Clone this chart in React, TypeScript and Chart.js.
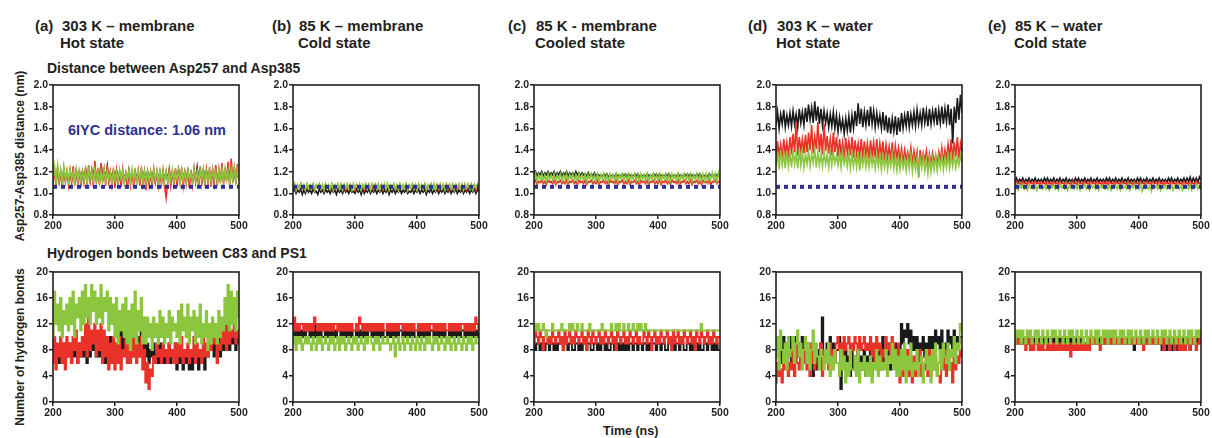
import React, { useEffect, useRef } from "react";
import { Chart, registerables } from "chart.js";

Chart.register(...registerables);

// ---------------- DATA ----------------
const TIME_NS = [
  200, 202.5, 205, 207.5, 210, 212.5, 215, 217.5, 220, 222.5,
  225, 227.5, 230, 232.5, 235, 237.5, 240, 242.5, 245, 247.5,
  250, 252.5, 255, 257.5, 260, 262.5, 265, 267.5, 270, 272.5,
  275, 277.5, 280, 282.5, 285, 287.5, 290, 292.5, 295, 297.5,
  300, 302.5, 305, 307.5, 310, 312.5, 315, 317.5, 320, 322.5,
  325, 327.5, 330, 332.5, 335, 337.5, 340, 342.5, 345, 347.5,
  350, 352.5, 355, 357.5, 360, 362.5, 365, 367.5, 370, 372.5,
  375, 377.5, 380, 382.5, 385, 387.5, 390, 392.5, 395, 397.5,
  400, 402.5, 405, 407.5, 410, 412.5, 415, 417.5, 420, 422.5,
  425, 427.5, 430, 432.5, 435, 437.5, 440, 442.5, 445, 447.5,
  450, 452.5, 455, 457.5, 460, 462.5, 465, 467.5, 470, 472.5,
  475, 477.5, 480, 482.5, 485, 487.5, 490, 492.5, 495, 497.5,
  500,
];
const X_TICKS = [200, 300, 400, 500];
const DIST_TICKS = [0.8, 1.0, 1.2, 1.4, 1.6, 1.8, 2.0];
const HB_TICKS = [0, 4, 8, 12, 16, 20];
const CRYSTAL_DISTANCE = 1.06; // 6IYC
const PANEL_TAGS = ["(a)", "(b)", "(c)", "(d)", "(e)"];
const PANEL_TITLES = ["303 K – membrane", "85 K – membrane", "85 K - membrane", "303 K – water", "85 K – water"];
const PANEL_STATES = ["Hot state", "Cold state", "Cooled state", "Hot state", "Cold state"];

// ===== Asp257–Asp385 distance (nm) =====
// (a) 303 K membrane
const A_DIST_BLACK = [
  1.12, 1.19, 1.13, 1.20, 1.12, 1.18, 1.14, 1.21, 1.12, 1.19,
  1.13, 1.20, 1.12, 1.18, 1.14, 1.21, 1.13, 1.19, 1.12, 1.20,
  1.13, 1.22, 1.14, 1.19, 1.12, 1.21, 1.13, 1.24, 1.14, 1.20,
  1.12, 1.27, 1.13, 1.21, 1.14, 1.25, 1.12, 1.19, 1.13, 1.20,
  1.12, 1.21, 1.13, 1.19, 1.12, 1.20, 1.14, 1.18, 1.12, 1.21,
  1.13, 1.19, 1.12, 1.20, 1.14, 1.18, 1.12, 1.21, 1.13, 1.19,
  1.12, 1.20, 1.13, 1.19, 1.14, 1.21, 1.12, 1.18, 1.13, 1.20,
  1.12, 1.19, 1.14, 1.20, 1.12, 1.21, 1.13, 1.19, 1.12, 1.20,
  1.13, 1.22, 1.12, 1.19, 1.14, 1.20, 1.12, 1.21, 1.13, 1.19,
  1.12, 1.20, 1.13, 1.24, 1.12, 1.19, 1.14, 1.21, 1.12, 1.20,
  1.13, 1.19, 1.12, 1.21, 1.14, 1.20, 1.12, 1.19, 1.13, 1.22,
  1.12, 1.20, 1.14, 1.19, 1.12, 1.21, 1.13, 1.20, 1.12, 1.21,
  1.13,
];
const A_DIST_RED = [
  1.09, 1.22, 1.07, 1.24, 1.10, 1.19, 1.06, 1.23, 1.11, 1.20,
  1.08, 1.21, 1.10, 1.25, 1.07, 1.20, 1.09, 1.22, 1.06, 1.19,
  1.10, 1.24, 1.08, 1.26, 1.11, 1.21, 1.07, 1.30, 1.09, 1.23,
  1.08, 1.28, 1.10, 1.22, 1.07, 1.26, 1.11, 1.20, 1.08, 1.23,
  1.05, 1.21, 1.09, 1.19, 1.06, 1.22, 1.10, 1.18, 1.04, 1.20,
  1.08, 1.22, 1.06, 1.19, 1.10, 1.21, 1.07, 1.24, 1.09, 1.20,
  1.03, 1.21, 1.08, 1.19, 1.06, 1.22, 1.10, 1.20, 1.07, 1.18,
  1.09, 1.21, 1.06, 0.96, 1.10, 1.22, 1.07, 1.19, 1.09, 1.23,
  1.06, 1.20, 1.10, 1.24, 1.07, 1.19, 1.09, 1.22, 1.05, 1.21,
  1.08, 1.23, 1.10, 1.20, 1.06, 1.25, 1.09, 1.21, 1.07, 1.22,
  1.10, 1.24, 1.06, 1.21, 1.09, 1.26, 1.07, 1.22, 1.10, 1.28,
  1.08, 1.24, 1.11, 1.29, 1.07, 1.32, 1.10, 1.25, 1.09, 1.27,
  1.12,
];
const A_DIST_GREEN = [
  1.12, 1.24, 1.11, 1.26, 1.13, 1.22, 1.10, 1.24, 1.12, 1.21,
  1.11, 1.22, 1.13, 1.20, 1.10, 1.22, 1.12, 1.21, 1.11, 1.20,
  1.12, 1.21, 1.10, 1.22, 1.13, 1.20, 1.11, 1.22, 1.12, 1.21,
  1.10, 1.20, 1.12, 1.22, 1.11, 1.21, 1.13, 1.19, 1.10, 1.21,
  1.12, 1.20, 1.11, 1.22, 1.13, 1.21, 1.10, 1.19, 1.12, 1.21,
  1.11, 1.22, 1.12, 1.20, 1.10, 1.21, 1.13, 1.22, 1.11, 1.20,
  1.10, 1.21, 1.12, 1.19, 1.11, 1.22, 1.13, 1.20, 1.10, 1.21,
  1.12, 1.20, 1.11, 1.21, 1.10, 1.19, 1.12, 1.22, 1.11, 1.20,
  1.13, 1.21, 1.10, 1.22, 1.12, 1.20, 1.11, 1.21, 1.13, 1.19,
  1.10, 1.22, 1.12, 1.20, 1.11, 1.21, 1.13, 1.22, 1.10, 1.20,
  1.12, 1.21, 1.11, 1.22, 1.13, 1.20, 1.10, 1.21, 1.12, 1.22,
  1.11, 1.23, 1.13, 1.21, 1.10, 1.22, 1.12, 1.24, 1.11, 1.22,
  1.13,
];

// (b) 85 K membrane
const B_DIST_BLACK = [
  1.01, 1.04, 1.00, 1.03, 1.01, 1.04, 0.99, 1.03, 1.00, 1.04,
  1.01, 1.03, 1.00, 1.04, 1.01, 1.02, 0.99, 1.04, 1.01, 1.03,
  1.00, 1.04, 1.01, 1.03, 1.00, 1.04, 1.01, 1.03, 0.99, 1.04,
  1.01, 1.03, 1.00, 1.04, 1.01, 1.03, 1.00, 1.04, 1.01, 1.02,
  1.00, 1.04, 1.01, 1.03, 0.99, 1.04, 1.00, 1.03, 1.01, 1.04,
  1.00, 1.03, 1.01, 1.04, 1.00, 1.03, 1.01, 1.04, 1.00, 1.03,
  1.01, 1.04, 0.99, 1.03, 1.01, 1.04, 1.00, 1.03, 1.01, 1.04,
  1.00, 1.03, 1.01, 1.04, 1.00, 1.02, 1.01, 1.04, 1.00, 1.03,
  1.01, 1.04, 1.00, 1.03, 1.01, 1.04, 0.99, 1.03, 1.01, 1.04,
  1.00, 1.03, 1.01, 1.04, 1.00, 1.03, 1.01, 1.04, 1.00, 1.03,
  1.01, 1.04, 1.00, 1.03, 1.01, 1.04, 1.00, 1.03, 1.01, 1.04,
  1.00, 1.03, 1.01, 1.04, 1.00, 1.03, 1.01, 1.04, 1.00, 1.04,
  1.01,
];
const B_DIST_RED = [
  1.04, 1.08, 1.03, 1.07, 1.05, 1.09, 1.04, 1.07, 1.03, 1.08,
  1.05, 1.07, 1.04, 1.08, 1.03, 1.07, 1.05, 1.08, 1.04, 1.07,
  1.03, 1.08, 1.05, 1.07, 1.04, 1.08, 1.03, 1.07, 1.05, 1.08,
  1.04, 1.07, 1.05, 1.08, 1.03, 1.07, 1.04, 1.08, 1.05, 1.07,
  1.03, 1.08, 1.04, 1.07, 1.05, 1.08, 1.03, 1.07, 1.04, 1.08,
  1.05, 1.07, 1.03, 1.08, 1.04, 1.07, 1.05, 1.08, 1.03, 1.07,
  1.04, 1.08, 1.03, 1.07, 1.05, 1.08, 1.04, 1.07, 1.03, 1.08,
  1.05, 1.07, 1.04, 1.08, 1.03, 1.07, 1.05, 1.08, 1.04, 1.07,
  1.03, 1.08, 1.05, 1.07, 1.04, 1.08, 1.03, 1.07, 1.05, 1.08,
  1.04, 1.07, 1.05, 1.08, 1.03, 1.07, 1.04, 1.08, 1.05, 1.07,
  1.03, 1.08, 1.04, 1.07, 1.05, 1.08, 1.03, 1.07, 1.04, 1.08,
  1.05, 1.07, 1.03, 1.08, 1.04, 1.07, 1.05, 1.08, 1.03, 1.07,
  1.04,
];
const B_DIST_GREEN = [
  1.04, 1.09, 1.03, 1.08, 1.05, 1.09, 1.04, 1.08, 1.03, 1.09,
  1.05, 1.08, 1.04, 1.09, 1.03, 1.08, 1.05, 1.09, 1.04, 1.08,
  1.03, 1.09, 1.05, 1.08, 1.04, 1.09, 1.03, 1.08, 1.05, 1.09,
  1.04, 1.09, 1.03, 1.08, 1.05, 1.09, 1.04, 1.08, 1.03, 1.09,
  1.05, 1.08, 1.04, 1.09, 1.03, 1.08, 1.05, 1.09, 1.04, 1.08,
  1.03, 1.09, 1.05, 1.08, 1.04, 1.09, 1.03, 1.08, 1.05, 1.09,
  1.04, 1.09, 1.03, 1.08, 1.05, 1.09, 1.04, 1.08, 1.03, 1.09,
  1.05, 1.08, 1.04, 1.09, 1.03, 1.08, 1.05, 1.09, 1.04, 1.08,
  1.03, 1.09, 1.05, 1.08, 1.04, 1.09, 1.03, 1.08, 1.05, 1.09,
  1.04, 1.09, 1.03, 1.08, 1.05, 1.09, 1.04, 1.08, 1.03, 1.09,
  1.05, 1.08, 1.04, 1.09, 1.03, 1.08, 1.05, 1.09, 1.04, 1.08,
  1.03, 1.09, 1.05, 1.08, 1.04, 1.09, 1.03, 1.08, 1.05, 1.09,
  1.04,
];

// (c) 85 K membrane, cooled
const C_DIST_BLACK = [
  1.17, 1.20, 1.16, 1.19, 1.17, 1.20, 1.16, 1.19, 1.17, 1.20,
  1.16, 1.19, 1.17, 1.20, 1.16, 1.19, 1.17, 1.20, 1.16, 1.19,
  1.17, 1.20, 1.16, 1.19, 1.17, 1.19, 1.16, 1.20, 1.17, 1.19,
  1.16, 1.19, 1.17, 1.18, 1.16, 1.19, 1.15, 1.18, 1.16, 1.19,
  1.15, 1.18, 1.16, 1.17, 1.15, 1.18, 1.16, 1.18, 1.15, 1.17,
  1.16, 1.17, 1.15, 1.18, 1.16, 1.17, 1.15, 1.18, 1.16, 1.18,
  1.15, 1.18, 1.16, 1.17, 1.15, 1.18, 1.16, 1.18, 1.15, 1.17,
  1.16, 1.17, 1.15, 1.18, 1.16, 1.17, 1.15, 1.18, 1.16, 1.18,
  1.15, 1.18, 1.16, 1.17, 1.15, 1.18, 1.16, 1.18, 1.15, 1.17,
  1.16, 1.17, 1.15, 1.18, 1.16, 1.17, 1.15, 1.18, 1.16, 1.18,
  1.15, 1.18, 1.16, 1.17, 1.15, 1.18, 1.16, 1.18, 1.15, 1.17,
  1.16, 1.17, 1.15, 1.18, 1.16, 1.17, 1.15, 1.18, 1.16, 1.18,
  1.16,
];
const C_DIST_RED = [
  1.09, 1.12, 1.08, 1.11, 1.10, 1.12, 1.09, 1.11, 1.08, 1.12,
  1.10, 1.11, 1.09, 1.12, 1.08, 1.11, 1.10, 1.12, 1.09, 1.11,
  1.09, 1.12, 1.08, 1.11, 1.10, 1.12, 1.09, 1.11, 1.08, 1.12,
  1.10, 1.11, 1.09, 1.12, 1.08, 1.11, 1.10, 1.12, 1.09, 1.11,
  1.09, 1.12, 1.08, 1.11, 1.10, 1.12, 1.09, 1.11, 1.08, 1.12,
  1.10, 1.11, 1.09, 1.12, 1.08, 1.11, 1.10, 1.12, 1.09, 1.11,
  1.09, 1.12, 1.08, 1.11, 1.10, 1.12, 1.09, 1.11, 1.08, 1.12,
  1.10, 1.11, 1.09, 1.12, 1.08, 1.11, 1.10, 1.12, 1.09, 1.11,
  1.09, 1.12, 1.08, 1.11, 1.10, 1.12, 1.09, 1.11, 1.08, 1.12,
  1.10, 1.11, 1.09, 1.12, 1.08, 1.11, 1.10, 1.12, 1.09, 1.11,
  1.09, 1.12, 1.08, 1.11, 1.10, 1.12, 1.09, 1.11, 1.08, 1.12,
  1.10, 1.11, 1.09, 1.12, 1.08, 1.11, 1.10, 1.12, 1.09, 1.11,
  1.10,
];
const C_DIST_GREEN = [
  1.12, 1.18, 1.11, 1.17, 1.13, 1.18, 1.12, 1.17, 1.11, 1.18,
  1.13, 1.17, 1.12, 1.18, 1.11, 1.17, 1.13, 1.18, 1.12, 1.17,
  1.12, 1.18, 1.11, 1.17, 1.13, 1.18, 1.12, 1.17, 1.11, 1.18,
  1.13, 1.17, 1.12, 1.18, 1.11, 1.17, 1.13, 1.18, 1.12, 1.17,
  1.12, 1.18, 1.11, 1.17, 1.13, 1.18, 1.12, 1.17, 1.11, 1.18,
  1.13, 1.17, 1.12, 1.18, 1.11, 1.17, 1.13, 1.18, 1.12, 1.17,
  1.12, 1.18, 1.11, 1.17, 1.13, 1.18, 1.12, 1.17, 1.11, 1.18,
  1.13, 1.17, 1.12, 1.18, 1.11, 1.17, 1.13, 1.18, 1.12, 1.17,
  1.12, 1.18, 1.11, 1.17, 1.13, 1.18, 1.12, 1.17, 1.11, 1.18,
  1.13, 1.17, 1.12, 1.18, 1.11, 1.17, 1.13, 1.18, 1.12, 1.17,
  1.12, 1.18, 1.11, 1.17, 1.13, 1.18, 1.12, 1.17, 1.11, 1.18,
  1.12, 1.18, 1.11, 1.17, 1.13, 1.19, 1.12, 1.18, 1.11, 1.19,
  1.12,
];

// (d) 303 K water
const D_DIST_BLACK = [
  1.62, 1.75, 1.60, 1.73, 1.64, 1.77, 1.61, 1.72, 1.63, 1.74,
  1.62, 1.76, 1.64, 1.73, 1.61, 1.78, 1.65, 1.75, 1.63, 1.79,
  1.66, 1.82, 1.68, 1.79, 1.65, 1.85, 1.67, 1.80, 1.64, 1.78,
  1.63, 1.76, 1.65, 1.74, 1.61, 1.73, 1.62, 1.75, 1.60, 1.72,
  1.57, 1.70, 1.59, 1.68, 1.55, 1.69, 1.58, 1.71, 1.56, 1.72,
  1.60, 1.76, 1.62, 1.83, 1.64, 1.78, 1.61, 1.75, 1.63, 1.77,
  1.62, 1.80, 1.64, 1.76, 1.61, 1.74, 1.63, 1.72, 1.60, 1.75,
  1.58, 1.72, 1.56, 1.70, 1.55, 1.69, 1.57, 1.71, 1.54, 1.70,
  1.57, 1.74, 1.60, 1.72, 1.62, 1.76, 1.61, 1.73, 1.63, 1.75,
  1.62, 1.77, 1.64, 1.74, 1.63, 1.79, 1.65, 1.76, 1.62, 1.78,
  1.64, 1.76, 1.66, 1.79, 1.63, 1.77, 1.65, 1.80, 1.64, 1.78,
  1.66, 1.82, 1.63, 1.78, 1.46, 1.80, 1.65, 1.88, 1.68, 1.91,
  1.74,
];
const D_DIST_RED = [
  1.30, 1.48, 1.35, 1.45, 1.32, 1.50, 1.36, 1.47, 1.33, 1.52,
  1.36, 1.55, 1.38, 1.66, 1.35, 1.52, 1.39, 1.50, 1.37, 1.54,
  1.38, 1.56, 1.40, 1.63, 1.37, 1.52, 1.41, 1.66, 1.38, 1.55,
  1.36, 1.64, 1.39, 1.53, 1.37, 1.50, 1.35, 1.56, 1.38, 1.52,
  1.34, 1.50, 1.36, 1.47, 1.33, 1.51, 1.37, 1.48, 1.35, 1.52,
  1.33, 1.49, 1.36, 1.46, 1.34, 1.50, 1.32, 1.48, 1.35, 1.46,
  1.32, 1.49, 1.35, 1.47, 1.33, 1.50, 1.31, 1.46, 1.34, 1.48,
  1.30, 1.45, 1.33, 1.43, 1.31, 1.47, 1.29, 1.44, 1.32, 1.42,
  1.30, 1.41, 1.28, 1.40, 1.31, 1.38, 1.29, 1.42, 1.27, 1.39,
  1.29, 1.38, 1.15, 1.40, 1.28, 1.37, 1.30, 1.39, 1.26, 1.36,
  1.27, 1.37, 1.29, 1.35, 1.26, 1.38, 1.30, 1.42, 1.28, 1.40,
  1.31, 1.45, 1.33, 1.50, 1.30, 1.47, 1.34, 1.52, 1.32, 1.46,
  1.38,
];
const D_DIST_GREEN = [
  1.24, 1.38, 1.22, 1.40, 1.26, 1.36, 1.23, 1.39, 1.25, 1.37,
  1.24, 1.40, 1.27, 1.37, 1.23, 1.41, 1.26, 1.38, 1.24, 1.36,
  1.27, 1.39, 1.25, 1.37, 1.28, 1.40, 1.24, 1.38, 1.26, 1.36,
  1.25, 1.38, 1.27, 1.36, 1.24, 1.39, 1.26, 1.37, 1.28, 1.35,
  1.26, 1.37, 1.24, 1.38, 1.27, 1.35, 1.25, 1.37, 1.23, 1.36,
  1.25, 1.36, 1.24, 1.38, 1.21, 1.35, 1.26, 1.37, 1.24, 1.34,
  1.24, 1.36, 1.26, 1.34, 1.23, 1.37, 1.25, 1.35, 1.22, 1.34,
  1.24, 1.35, 1.22, 1.33, 1.25, 1.36, 1.23, 1.34, 1.21, 1.33,
  1.22, 1.34, 1.24, 1.32, 1.21, 1.33, 1.23, 1.35, 1.20, 1.32,
  1.22, 1.33, 1.19, 1.32, 1.23, 1.34, 1.21, 1.31, 1.18, 1.32,
  1.20, 1.32, 1.22, 1.34, 1.21, 1.33, 1.24, 1.35, 1.22, 1.33,
  1.24, 1.35, 1.23, 1.34, 1.25, 1.36, 1.24, 1.34, 1.26, 1.35,
  1.28,
];

// (e) 85 K water
const E_DIST_BLACK = [
  1.11, 1.14, 1.10, 1.13, 1.11, 1.14, 1.10, 1.13, 1.11, 1.14,
  1.10, 1.13, 1.11, 1.14, 1.10, 1.13, 1.11, 1.13, 1.10, 1.14,
  1.11, 1.14, 1.10, 1.13, 1.11, 1.14, 1.10, 1.13, 1.11, 1.14,
  1.10, 1.13, 1.11, 1.14, 1.10, 1.13, 1.11, 1.13, 1.10, 1.14,
  1.11, 1.14, 1.10, 1.13, 1.11, 1.14, 1.10, 1.13, 1.11, 1.14,
  1.10, 1.13, 1.11, 1.14, 1.10, 1.13, 1.11, 1.13, 1.10, 1.14,
  1.11, 1.14, 1.10, 1.13, 1.11, 1.14, 1.10, 1.13, 1.11, 1.14,
  1.10, 1.13, 1.11, 1.14, 1.10, 1.13, 1.11, 1.13, 1.10, 1.14,
  1.11, 1.14, 1.10, 1.13, 1.11, 1.14, 1.10, 1.13, 1.11, 1.14,
  1.10, 1.13, 1.11, 1.14, 1.10, 1.13, 1.11, 1.13, 1.10, 1.14,
  1.11, 1.14, 1.10, 1.13, 1.11, 1.14, 1.10, 1.13, 1.11, 1.14,
  1.10, 1.14, 1.11, 1.15, 1.10, 1.14, 1.11, 1.14, 1.10, 1.15,
  1.12,
];
const E_DIST_RED = [
  1.08, 1.11, 1.09, 1.10, 1.08, 1.11, 1.09, 1.10, 1.08, 1.11,
  1.09, 1.10, 1.08, 1.11, 1.09, 1.10, 1.08, 1.11, 1.09, 1.10,
  1.08, 1.11, 1.09, 1.10, 1.08, 1.11, 1.09, 1.10, 1.08, 1.11,
  1.09, 1.10, 1.08, 1.11, 1.09, 1.10, 1.08, 1.11, 1.09, 1.10,
  1.08, 1.11, 1.09, 1.10, 1.08, 1.11, 1.09, 1.10, 1.08, 1.11,
  1.09, 1.10, 1.08, 1.11, 1.09, 1.10, 1.08, 1.11, 1.09, 1.10,
  1.08, 1.11, 1.09, 1.10, 1.08, 1.11, 1.09, 1.10, 1.08, 1.11,
  1.09, 1.10, 1.08, 1.11, 1.09, 1.10, 1.08, 1.11, 1.09, 1.10,
  1.08, 1.11, 1.09, 1.10, 1.08, 1.11, 1.09, 1.10, 1.08, 1.11,
  1.09, 1.10, 1.08, 1.11, 1.09, 1.10, 1.08, 1.11, 1.09, 1.10,
  1.08, 1.11, 1.09, 1.10, 1.08, 1.11, 1.09, 1.10, 1.08, 1.11,
  1.09, 1.10, 1.08, 1.11, 1.09, 1.10, 1.08, 1.11, 1.09, 1.10,
  1.09,
];
const E_DIST_GREEN = [
  1.04, 1.08, 1.03, 1.07, 1.05, 1.08, 1.04, 1.07, 1.03, 1.08,
  1.05, 1.07, 1.04, 1.08, 1.03, 1.07, 1.05, 1.08, 1.04, 1.07,
  1.04, 1.08, 1.03, 1.07, 1.05, 1.08, 1.04, 1.07, 1.03, 1.08,
  1.05, 1.07, 1.04, 1.08, 1.03, 1.07, 1.05, 1.08, 1.04, 1.07,
  1.04, 1.08, 1.03, 1.07, 1.05, 1.08, 1.04, 1.07, 1.03, 1.08,
  1.05, 1.07, 1.04, 1.08, 1.03, 1.07, 1.05, 1.08, 1.04, 1.07,
  1.04, 1.08, 1.03, 1.07, 1.05, 1.08, 1.04, 1.07, 1.03, 1.08,
  1.05, 1.07, 1.04, 1.08, 1.03, 1.07, 1.05, 1.08, 1.04, 1.07,
  1.04, 1.08, 1.02, 1.07, 1.05, 1.08, 1.04, 1.07, 1.02, 1.08,
  1.05, 1.07, 1.04, 1.08, 1.03, 1.07, 1.05, 1.08, 1.04, 1.07,
  1.04, 1.08, 1.03, 1.07, 1.05, 1.08, 1.04, 1.07, 1.03, 1.08,
  1.05, 1.07, 1.04, 1.08, 1.03, 1.07, 1.05, 1.08, 1.04, 1.07,
  1.04,
];

// ===== Hydrogen bonds C83–PS1 =====
// (a)
const A_HB_BLACK = [
  6, 9, 7, 8, 6, 9, 7, 9, 6, 8,
  7, 9, 6, 8, 7, 9, 6, 9, 7, 8,
  7, 10, 6, 9, 7, 10, 8, 9, 7, 10,
  7, 9, 8, 10, 6, 9, 7, 10, 8, 9,
  7, 9, 8, 12, 7, 13, 8, 10, 7, 11,
  8, 12, 7, 13, 8, 10, 7, 11, 8, 10,
  7, 9, 6, 8, 7, 9, 7, 8, 6, 9,
  7, 9, 6, 8, 7, 9, 6, 8, 7, 9,
  5, 8, 6, 7, 5, 8, 6, 7, 5, 8,
  5, 8, 6, 7, 5, 8, 6, 8, 5, 7,
  7, 10, 8, 9, 7, 11, 8, 10, 7, 9,
  8, 10, 9, 11, 8, 10, 9, 11, 8, 10,
  9,
];
const A_HB_RED = [
  6, 10, 5, 9, 7, 10, 6, 9, 5, 10,
  7, 9, 6, 10, 8, 11, 6, 9, 7, 10,
  8, 12, 7, 13, 8, 11, 9, 12, 7, 11,
  8, 12, 6, 11, 7, 10, 5, 9, 6, 10,
  5, 9, 6, 10, 5, 8, 7, 10, 6, 9,
  6, 11, 7, 10, 6, 9, 7, 10, 5, 8,
  3, 6, 2, 5, 4, 7, 6, 9, 7, 8,
  6, 9, 7, 8, 6, 9, 7, 8, 6, 9,
  6, 9, 7, 10, 6, 8, 7, 9, 6, 8,
  7, 10, 6, 9, 7, 8, 6, 10, 7, 9,
  7, 10, 8, 11, 9, 10, 6, 9, 8, 11,
  9, 13, 8, 12, 9, 11, 10, 12, 9, 11,
  10,
];
const A_HB_GREEN = [
  10, 17, 12, 15, 11, 16, 10, 14, 12, 15,
  11, 16, 12, 17, 10, 15, 13, 16, 11, 17,
  12, 18, 13, 16, 12, 18, 14, 17, 12, 16,
  13, 18, 12, 16, 14, 17, 11, 16, 12, 15,
  10, 16, 9, 14, 11, 15, 10, 16, 9, 14,
  8, 15, 10, 17, 9, 14, 11, 16, 9, 13,
  9, 13, 10, 12, 8, 13, 10, 12, 9, 14,
  10, 13, 9, 12, 10, 14, 9, 13, 11, 12,
  10, 14, 9, 15, 11, 13, 10, 15, 9, 13,
  11, 14, 9, 13, 10, 15, 9, 12, 10, 14,
  8, 12, 9, 13, 10, 12, 9, 14, 10, 13,
  11, 16, 12, 18, 11, 17, 12, 16, 11, 17,
  13,
];

// (b)
const B_HB_BLACK = [
  10, 11, 10, 11, 10, 11, 10, 11, 10, 11,
  11, 10, 11, 10, 12, 10, 11, 10, 11, 10,
  10, 11, 10, 11, 10, 11, 10, 11, 10, 11,
  11, 10, 11, 10, 11, 10, 11, 10, 11, 10,
  10, 11, 10, 11, 10, 11, 10, 11, 10, 11,
  11, 10, 11, 10, 11, 10, 11, 10, 11, 10,
  10, 11, 10, 11, 10, 11, 10, 11, 10, 11,
  11, 10, 11, 10, 11, 10, 11, 10, 11, 10,
  10, 11, 10, 11, 10, 11, 10, 11, 10, 11,
  11, 10, 11, 10, 11, 10, 11, 10, 11, 10,
  10, 11, 10, 11, 10, 11, 10, 11, 10, 11,
  11, 10, 11, 10, 11, 10, 11, 10, 11, 10,
  11,
];
const B_HB_RED = [
  11, 13, 11, 12, 11, 12, 12, 11, 12, 11,
  12, 11, 12, 11, 13, 12, 11, 12, 11, 12,
  11, 12, 11, 12, 11, 12, 11, 12, 12, 11,
  12, 11, 12, 11, 12, 11, 12, 11, 12, 11,
  11, 12, 11, 13, 12, 11, 12, 11, 12, 11,
  12, 11, 12, 11, 12, 11, 12, 11, 12, 11,
  11, 12, 11, 12, 11, 12, 11, 12, 11, 12,
  12, 11, 12, 11, 12, 11, 12, 11, 12, 11,
  11, 12, 11, 12, 11, 12, 11, 12, 11, 12,
  12, 11, 12, 11, 12, 11, 12, 11, 12, 11,
  11, 12, 11, 12, 11, 12, 11, 12, 11, 12,
  12, 11, 12, 11, 12, 11, 12, 11, 13, 12,
  11,
];
const B_HB_GREEN = [
  9, 10, 8, 10, 9, 10, 8, 9, 10, 9,
  10, 9, 8, 10, 9, 8, 10, 9, 10, 8,
  9, 10, 9, 8, 10, 9, 10, 8, 9, 10,
  8, 10, 9, 10, 8, 9, 10, 9, 8, 10,
  9, 10, 8, 9, 10, 9, 8, 10, 9, 10,
  10, 9, 8, 10, 9, 10, 8, 9, 10, 9,
  9, 10, 9, 8, 9, 10, 7, 9, 10, 8,
  9, 10, 8, 9, 10, 9, 8, 10, 9, 8,
  10, 9, 8, 10, 9, 8, 10, 9, 10, 9,
  8, 10, 9, 10, 8, 9, 10, 9, 8, 10,
  9, 10, 8, 9, 10, 8, 9, 10, 9, 8,
  10, 9, 8, 10, 9, 10, 8, 9, 10, 9,
  9,
];

// (c)
const C_HB_BLACK = [
  9, 8, 9, 9, 8, 9, 9, 8, 9, 9,
  8, 9, 9, 8, 9, 8, 9, 9, 9, 8,
  9, 9, 8, 9, 9, 8, 8, 9, 9, 8,
  9, 8, 9, 9, 8, 9, 9, 8, 8, 9,
  9, 8, 9, 8, 9, 9, 8, 9, 8, 8,
  9, 9, 8, 9, 9, 8, 9, 8, 9, 8,
  9, 8, 9, 9, 8, 9, 9, 8, 9, 9,
  8, 9, 9, 8, 9, 8, 9, 9, 9, 8,
  9, 9, 8, 9, 9, 8, 8, 9, 9, 8,
  9, 8, 9, 9, 8, 9, 9, 8, 8, 9,
  9, 8, 9, 8, 9, 9, 8, 9, 8, 8,
  9, 9, 8, 9, 9, 8, 9, 8, 9, 8,
  8,
];
const C_HB_RED = [
  9, 11, 10, 9, 11, 10, 8, 10, 11, 9,
  10, 9, 11, 10, 9, 10, 11, 9, 10, 8,
  11, 9, 10, 11, 9, 10, 9, 11, 10, 9,
  10, 11, 9, 10, 8, 11, 10, 9, 11, 10,
  9, 10, 11, 9, 10, 9, 11, 10, 9, 10,
  11, 9, 10, 8, 11, 10, 9, 10, 11, 9,
  10, 9, 11, 10, 9, 10, 11, 9, 10, 9,
  9, 11, 10, 9, 11, 10, 8, 10, 11, 9,
  10, 9, 11, 10, 9, 10, 11, 9, 10, 8,
  11, 9, 10, 11, 9, 10, 9, 11, 10, 9,
  10, 11, 9, 10, 8, 11, 10, 9, 11, 10,
  9, 10, 11, 9, 10, 9, 11, 10, 9, 10,
  10,
];
const C_HB_GREEN = [
  11, 12, 11, 12, 11, 11, 12, 11, 10, 11,
  11, 11, 12, 11, 11, 11, 11, 11, 12, 11,
  11, 11, 11, 12, 11, 12, 11, 11, 12, 11,
  11, 12, 11, 11, 11, 11, 12, 11, 11, 11,
  11, 11, 11, 11, 12, 11, 11, 11, 11, 11,
  12, 11, 11, 12, 11, 12, 11, 11, 12, 11,
  11, 12, 11, 11, 12, 11, 11, 12, 11, 12,
  11, 11, 12, 11, 11, 11, 11, 11, 11, 11,
  11, 11, 11, 11, 11, 11, 11, 11, 11, 11,
  11, 11, 11, 11, 11, 11, 11, 11, 11, 11,
  11, 11, 11, 11, 11, 11, 11, 11, 12, 11,
  11, 11, 11, 11, 11, 11, 11, 11, 11, 11,
  11,
];

// (d)
const D_HB_BLACK = [
  8, 10, 7, 9, 6, 10, 8, 9, 7, 10,
  6, 9, 8, 10, 7, 9, 6, 10, 8, 9,
  6, 9, 5, 8, 4, 7, 5, 8, 6, 9,
  13, 8, 6, 9, 7, 10, 8, 9, 6, 8,
  8, 10, 2, 9, 6, 8, 5, 7, 4, 8,
  5, 7, 4, 8, 6, 7, 5, 8, 4, 7,
  5, 8, 4, 7, 6, 9, 5, 8, 7, 10,
  6, 8, 7, 9, 5, 8, 6, 9, 7, 8,
  8, 12, 9, 11, 10, 12, 9, 11, 8, 10,
  8, 10, 7, 9, 8, 10, 7, 9, 8, 10,
  8, 10, 7, 11, 9, 10, 8, 11, 7, 9,
  8, 11, 9, 10, 7, 11, 8, 10, 9, 10,
  10,
];
const D_HB_RED = [
  3, 6, 4, 5, 3, 7, 5, 8, 4, 6,
  5, 8, 4, 9, 6, 5, 8, 7, 6, 9,
  5, 8, 4, 9, 6, 5, 8, 7, 6, 9,
  4, 8, 6, 7, 5, 9, 7, 8, 6, 9,
  10, 8, 9, 6, 10, 8, 9, 10, 7, 9,
  8, 10, 9, 7, 10, 8, 9, 10, 8, 9,
  8, 10, 7, 9, 6, 10, 8, 9, 5, 8,
  7, 10, 8, 9, 6, 10, 9, 8, 7, 9,
  3, 6, 4, 7, 5, 8, 4, 6, 3, 7,
  4, 7, 5, 8, 4, 6, 5, 7, 4, 8,
  4, 8, 5, 7, 6, 4, 3, 6, 5, 8,
  4, 7, 5, 6, 3, 8, 5, 7, 6, 8,
  7,
];
const D_HB_GREEN = [
  7, 10, 5, 11, 8, 6, 9, 5, 10, 7,
  8, 10, 6, 9, 11, 7, 9, 5, 8, 10,
  6, 9, 5, 8, 11, 6, 9, 7, 5, 8,
  7, 5, 8, 6, 9, 4, 7, 5, 8, 6,
  6, 4, 8, 5, 7, 3, 6, 4, 8, 5,
  5, 7, 4, 8, 3, 6, 5, 7, 4, 6,
  4, 7, 3, 6, 5, 8, 4, 7, 5, 6,
  5, 8, 4, 7, 6, 9, 5, 8, 4, 7,
  4, 8, 5, 9, 3, 7, 5, 9, 4, 6,
  5, 8, 4, 6, 7, 3, 6, 8, 5, 7,
  3, 8, 5, 9, 4, 6, 8, 5, 9, 7,
  6, 9, 5, 8, 7, 10, 6, 9, 8, 12,
  11,
];

// (e)
const E_HB_BLACK = [
  9, 10, 9, 10, 9, 10, 9, 10, 9, 10,
  9, 10, 9, 10, 9, 10, 9, 10, 9, 10,
  9, 10, 9, 10, 9, 10, 8, 10, 9, 10,
  9, 10, 9, 10, 9, 10, 9, 10, 9, 10,
  9, 10, 8, 10, 9, 8, 9, 10, 9, 10,
  9, 10, 9, 10, 9, 10, 9, 10, 9, 10,
  9, 10, 9, 10, 9, 10, 9, 10, 9, 10,
  9, 10, 9, 10, 9, 10, 9, 8, 9, 10,
  9, 10, 9, 10, 9, 10, 9, 10, 9, 10,
  9, 10, 9, 10, 9, 8, 9, 10, 8, 10,
  9, 8, 9, 10, 9, 8, 9, 10, 9, 10,
  9, 10, 9, 8, 9, 10, 9, 10, 9, 10,
  10,
];
const E_HB_RED = [
  9, 10, 9, 10, 9, 10, 9, 8, 9, 10,
  8, 9, 8, 9, 10, 8, 9, 8, 9, 8,
  8, 9, 8, 9, 8, 9, 8, 9, 8, 9,
  8, 9, 8, 9, 8, 9, 7, 9, 8, 9,
  8, 9, 8, 9, 8, 9, 8, 9, 8, 10,
  9, 10, 9, 10, 9, 8, 9, 10, 9, 10,
  9, 10, 9, 10, 9, 10, 9, 10, 9, 10,
  9, 10, 9, 10, 9, 10, 9, 10, 9, 10,
  9, 10, 9, 8, 9, 10, 9, 10, 9, 10,
  9, 10, 9, 10, 9, 10, 8, 10, 9, 10,
  8, 9, 10, 8, 9, 10, 8, 9, 8, 9,
  8, 9, 10, 8, 9, 10, 9, 8, 9, 10,
  9,
];
const E_HB_GREEN = [
  9, 11, 10, 11, 9, 11, 10, 9, 11, 10,
  11, 9, 10, 11, 9, 11, 10, 9, 11, 10,
  9, 11, 10, 9, 11, 10, 11, 9, 10, 11,
  10, 9, 11, 10, 9, 11, 10, 11, 9, 10,
  11, 9, 10, 11, 9, 10, 11, 9, 10, 11,
  9, 10, 11, 9, 11, 10, 9, 11, 10, 11,
  9, 11, 10, 11, 9, 11, 10, 9, 11, 10,
  11, 9, 10, 11, 9, 11, 10, 9, 11, 10,
  9, 11, 10, 9, 11, 10, 11, 9, 10, 11,
  10, 9, 11, 10, 9, 11, 10, 11, 9, 10,
  11, 9, 10, 11, 9, 10, 11, 9, 10, 11,
  9, 10, 11, 9, 11, 10, 9, 11, 10, 11,
  10,
];

const DIST_SERIES = [
  [A_DIST_BLACK, A_DIST_RED, A_DIST_GREEN],
  [B_DIST_BLACK, B_DIST_RED, B_DIST_GREEN],
  [C_DIST_BLACK, C_DIST_RED, C_DIST_GREEN],
  [D_DIST_BLACK, D_DIST_RED, D_DIST_GREEN],
  [E_DIST_BLACK, E_DIST_RED, E_DIST_GREEN],
];
const HB_SERIES = [
  [A_HB_BLACK, A_HB_RED, A_HB_GREEN],
  [B_HB_BLACK, B_HB_RED, B_HB_GREEN],
  [C_HB_BLACK, C_HB_RED, C_HB_GREEN],
  [D_HB_BLACK, D_HB_RED, D_HB_GREEN],
  [E_HB_BLACK, E_HB_RED, E_HB_GREEN],
];

// ---------------- LAYOUT / STYLE ----------------
const PLOT_LEFTS = [53, 293, 534, 776, 1015];
const PLOT_W = 186;
const PLOT_H = 130;
const TOP_ROW_Y = 85;
const BOTTOM_ROW_Y = 272;
const Y_AXIS_W = 34;
const X_AXIS_H = 22;
const PAD_T = 8;
const PAD_R = 12;

const INK = "#231f20";
const COLORS = ["#1a1a1a", "#e8322a", "#8cc63f"];
const BLUE = "#2e3192";
const FONT = "'Liberation Sans', Arial, Helvetica, sans-serif";
const DIST_LINE_W = 1.6;
const HB_LINE_W = 1.8;

const framePlugin = {
  id: "frame",
  afterDatasetsDraw(chart: any) {
    const { ctx, chartArea: a } = chart;
    ctx.save();
    ctx.strokeStyle = INK;
    ctx.lineWidth = 1.6;
    ctx.strokeRect(a.left, a.top, a.right - a.left, a.bottom - a.top);
    ctx.restore();
  },
};

function Panel(props: { idx: number; kind: "dist" | "hb" }) {
  const { idx, kind } = props;
  const ref = useRef<HTMLCanvasElement | null>(null);
  const left = PLOT_LEFTS[idx] - Y_AXIS_W;
  const top = (kind === "dist" ? TOP_ROW_Y : BOTTOM_ROW_Y) - PAD_T;
  const w = Y_AXIS_W + PLOT_W + PAD_R;
  const h = PAD_T + PLOT_H + X_AXIS_H;

  useEffect(() => {
    const series = kind === "dist" ? DIST_SERIES[idx] : HB_SERIES[idx];
    const datasets: any[] = series.map((vals, s) => ({
      data: TIME_NS.map((t, i) => ({ x: t, y: vals[i] })),
      borderColor: COLORS[s],
      borderWidth: kind === "hb" ? HB_LINE_W : DIST_LINE_W,
      borderJoinStyle: "miter",
      borderCapStyle: "butt",
      pointRadius: 0,
      tension: 0,
      stepped: kind === "hb" ? "middle" : false,
      order: 3 - s,
    }));
    if (kind === "dist") {
      datasets.push({
        data: [
          { x: TIME_NS[0], y: CRYSTAL_DISTANCE },
          { x: TIME_NS[TIME_NS.length - 1], y: CRYSTAL_DISTANCE },
        ],
        borderColor: BLUE,
        borderWidth: 4,
        borderDash: [4, 4],
        borderCapStyle: "butt",
        pointRadius: 0,
        order: 0,
      });
    }
    const yTicks = kind === "dist" ? DIST_TICKS : HB_TICKS;
    const tickFont = { family: FONT, size: 10.5, weight: "bold" as const };
    const chart = new Chart(ref.current as HTMLCanvasElement, {
      type: "line",
      data: { datasets },
      plugins: [framePlugin],
      options: {
        animation: false,
        responsive: false,
        devicePixelRatio: 1,
        layout: { padding: { top: PAD_T, right: PAD_R, left: 0, bottom: 0 } },
        plugins: { legend: { display: false }, tooltip: { enabled: false } },
        scales: {
          x: {
            type: "linear",
            min: X_TICKS[0],
            max: X_TICKS[X_TICKS.length - 1],
            afterBuildTicks: (s: any) => {
              s.ticks = X_TICKS.map((v) => ({ value: v }));
            },
            afterFit: (s: any) => {
              s.height = X_AXIS_H;
            },
            ticks: { font: tickFont, color: INK, padding: 1, maxRotation: 0, autoSkip: false },
            grid: { drawOnChartArea: false, drawTicks: true, tickLength: 4, color: INK, lineWidth: 1.5 },
            border: { display: false },
          },
          y: {
            type: "linear",
            min: yTicks[0],
            max: yTicks[yTicks.length - 1],
            afterBuildTicks: (s: any) => {
              s.ticks = yTicks.map((v) => ({ value: v }));
            },
            afterFit: (s: any) => {
              s.width = Y_AXIS_W;
            },
            ticks: {
              font: tickFont,
              color: INK,
              padding: 1,
              autoSkip: false,
              callback: (v: any) => (kind === "dist" ? Number(v).toFixed(1) : String(v)),
            },
            grid: { drawOnChartArea: false, drawTicks: true, tickLength: 4, color: INK, lineWidth: 1.5 },
            border: { display: false },
          },
        },
      } as any,
    });
    return () => chart.destroy();
  }, [idx, kind]);

  return (
    <canvas
      ref={ref}
      width={w}
      height={h}
      style={{ position: "absolute", left, top, width: w, height: h }}
    />
  );
}

const TAG_X = [35, 272, 508, 748, 988];
const TITLE_X = [62, 299, 536, 777, 1015];
const STATE_X = [60, 298, 535, 776, 1014];

const textBase: React.CSSProperties = {
  position: "absolute",
  fontFamily: FONT,
  fontWeight: "bold",
  color: INK,
  whiteSpace: "nowrap",
  margin: 0,
};

export default function App() {
  const idxs = [0, 1, 2, 3, 4];
  return (
    <div
      style={{
        position: "absolute",
        left: 0,
        top: 0,
        width: 1212,
        height: 438,
        background: "#ffffff",
        overflow: "hidden",
      }}
    >
      {idxs.map((i) => (
        <React.Fragment key={"h" + i}>
          <div style={{ ...textBase, left: TAG_X[i], top: 18, fontSize: 15, lineHeight: "15px" }}>{PANEL_TAGS[i]}</div>
          <div style={{ ...textBase, left: TITLE_X[i], top: 18, fontSize: 15, lineHeight: "15px" }}>{PANEL_TITLES[i]}</div>
          <div style={{ ...textBase, left: STATE_X[i], top: 35, fontSize: 15, lineHeight: "15px" }}>{PANEL_STATES[i]}</div>
        </React.Fragment>
      ))}
      <div style={{ ...textBase, left: 47, top: 61, fontSize: 14, lineHeight: "14px" }}>
        Distance between Asp257 and Asp385
      </div>
      <div style={{ ...textBase, left: 47, top: 246, fontSize: 14, lineHeight: "14px" }}>
        Hydrogen bonds between C83 and PS1
      </div>
      <div style={{ ...textBase, left: 68, top: 123, fontSize: 14.5, lineHeight: "14.5px", color: BLUE }}>
        6IYC distance: 1.06 nm
      </div>
      <div
        style={{
          ...textBase,
          left: 20,
          top: 155.5,
          fontSize: 12,
          lineHeight: "12px",
          transform: "translate(-50%, -50%) rotate(-90deg)",
        }}
      >
        Asp257-Asp385 distance (nm)
      </div>
      <div
        style={{
          ...textBase,
          left: 20,
          top: 347,
          fontSize: 12,
          lineHeight: "12px",
          transform: "translate(-50%, -50%) rotate(-90deg)",
        }}
      >
        Number of hydrogen bonds
      </div>
      <div style={{ ...textBase, left: 603, top: 425, fontSize: 12.5, lineHeight: "12.5px" }}>Time (ns)</div>
      {idxs.map((i) => (
        <Panel key={"d" + i} idx={i} kind="dist" />
      ))}
      {idxs.map((i) => (
        <Panel key={"b" + i} idx={i} kind="hb" />
      ))}
    </div>
  );
}
